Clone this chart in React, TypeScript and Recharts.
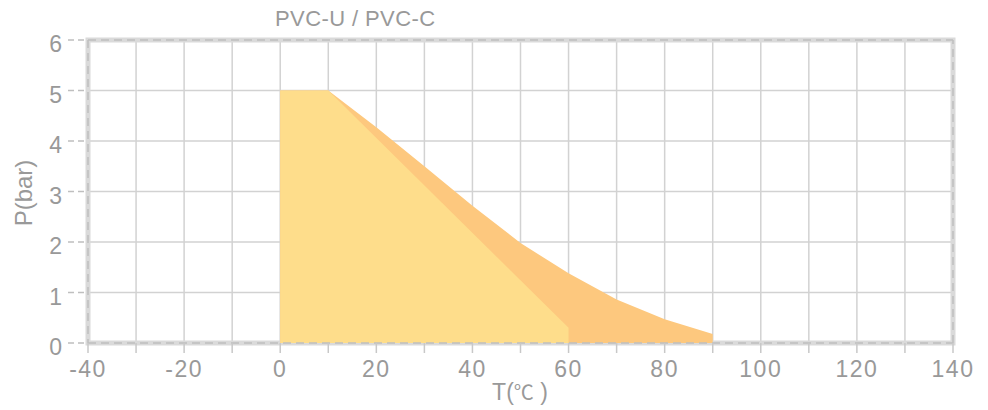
import React from 'react';
import {
  ComposedChart,
  Area,
  XAxis,
  YAxis,
  CartesianGrid,
  ReferenceArea,
  ReferenceLine,
} from 'recharts';

// Temperature (°C) sample points
const temps = [0, 10, 20, 30, 40, 50, 60, 70, 80, 90];
// PVC-U permissible pressure (bar) – light yellow area
const pvcuPressure: (number | null)[] = [5, 5, null, null, null, null, 0.3, null, null, null];
// PVC-C permissible pressure (bar) – orange area
const pvccPressure: (number | null)[] = [5, 5, 4.27, 3.5, 2.72, 1.98, 1.38, 0.86, 0.47, 0.18];

const xTicks = [-40, -30, -20, -10, 0, 10, 20, 30, 40, 50, 60, 70, 80, 90, 100, 110, 120, 130, 140];
const yTicks = [0, 1, 2, 3, 4, 5, 6];

const title = 'PVC-U / PVC-C';
const yLabel = 'P(bar)';

const FONT = '"Liberation Sans", Arial, "Noto Sans CJK SC", sans-serif';
const TEXT = '#999999';

export default function App() {
  const data = temps.map((t, i) => ({ t, pvcu: pvcuPressure[i], pvcc: pvccPressure[i] }));
  return (
    <div style={{ position: 'absolute', left: 0, top: 0, width: 988, height: 410 }}>
      <ComposedChart
        width={988}
        height={410}
        data={data}
        margin={{ top: 40, right: 35, bottom: 37, left: 0 }}
      >
        <ReferenceArea
          x1={-40}
          x2={140}
          y1={0}
          y2={6}
          fill="none"
          stroke="#dadada"
          strokeWidth={5}
          ifOverflow="visible"
        />
        <Area
          dataKey="pvcc"
          type="linear"
          fill="#FDC87E"
          fillOpacity={1}
          stroke="none"
          isAnimationActive={false}
        />
        <Area
          dataKey="pvcu"
          type="linear"
          connectNulls
          fill="#FEDD8B"
          fillOpacity={1}
          stroke="none"
          isAnimationActive={false}
        />
        <CartesianGrid stroke="#d2d2d2" strokeWidth={1.5} />
        <ReferenceLine y={6} stroke="#bfbfbf" strokeWidth={1.5} strokeDasharray="8 5" />
        <ReferenceLine x={140} stroke="#bfbfbf" strokeWidth={1.5} strokeDasharray="8 5" />
        <XAxis
          dataKey="t"
          type="number"
          domain={[-40, 140]}
          ticks={xTicks}
          interval={0}
          height={30}
          tickSize={10}
          tickMargin={8}
          tickFormatter={(v: number) => (v % 20 === 0 ? String(v) : '')}
          axisLine={{ stroke: '#bfbfbf', strokeWidth: 1.5, strokeDasharray: '8 5' }}
          tickLine={{ stroke: '#c8c8c8', strokeWidth: 1.5 }}
          tick={{ fill: TEXT, fontSize: 23, fontFamily: FONT, letterSpacing: 1.5 }}
        />
        <YAxis
          type="number"
          domain={[0, 6]}
          ticks={yTicks}
          interval={0}
          width={88}
          tickSize={20}
          tickMargin={6}
          axisLine={{ stroke: '#bfbfbf', strokeWidth: 1.5, strokeDasharray: '8 5' }}
          tickLine={{ stroke: '#bfbfbf', strokeWidth: 1.5, strokeDasharray: '6 4' }}
          tick={{ fill: TEXT, fontSize: 23, fontFamily: FONT, dy: 4 }}
        />
      </ComposedChart>
      <svg
        width={988}
        height={410}
        style={{ position: 'absolute', left: 0, top: 0, pointerEvents: 'none' }}
      >
        <text x={275} y={26} fontSize={22} fill={TEXT} fontFamily={FONT} letterSpacing={0.4}>
          {title}
        </text>
        <text
          x={520}
          y={400}
          fontSize={23}
          fill={TEXT}
          fontFamily={FONT}
          textAnchor="middle"
        >
          T(
          <tspan fontFamily='"Noto Sans CJK SC", sans-serif' fontSize={20}>
            ℃
          </tspan>
          {' )'}
        </text>
        <text
          x={32}
          y={193}
          fontSize={24}
          fill={TEXT}
          fontFamily={FONT}
          textAnchor="middle"
          transform="rotate(-90 32 193)"
        >
          {yLabel}
        </text>
      </svg>
    </div>
  );
}
